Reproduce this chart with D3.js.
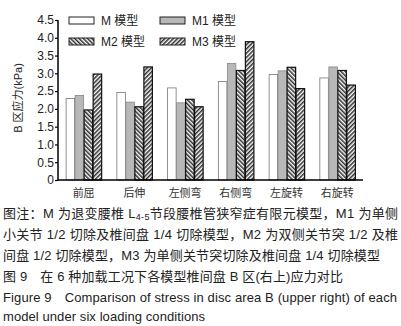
<!DOCTYPE html>
<html>
<head>
<meta charset="utf-8">
<script src="https://cdn.jsdelivr.net/npm/d3@7"></script>
<style>
  body { margin: 0; background: #fff; }
  svg { display: block; }
</style>
</head>
<body>
<div id="chart"></div>
<script>
// Data
var conditions = ["前屈", "后伸", "左侧弯", "右侧弯", "左旋转", "右旋转"];
var models = ["M 模型", "M1 模型", "M2 模型", "M3 模型"];
var valuesM  = [2.29, 2.46, 2.59, 2.77, 2.97, 2.87];
var valuesM1 = [2.38, 2.19, 2.17, 3.28, 3.07, 3.18];
var valuesM2 = [1.97, 2.06, 2.27, 3.08, 3.17, 3.08];
var valuesM3 = [2.98, 3.18, 2.06, 3.89, 2.57, 2.67];
var yTicks = [0, 0.5, 1.0, 1.5, 2.0, 2.5, 3.0, 3.5, 4.0, 4.5];
var captionLines = [
    "图注：M 为退变腰椎 L_4-5_节段腰椎管狭窄症有限元模型，M1 为单侧",
    "小关节 1/2 切除及椎间盘 1/4 切除模型，M2 为双侧关节突 1/2 及椎",
    "间盘 1/2 切除模型，M3 为单侧关节突切除及椎间盘 1/4 切除模型",
    "图 9　在 6 种加载工况下各模型椎间盘 B 区(右上)应力对比",
    "Figure 9　Comparison of stress in disc area B (upper right) of each",
    "model under six loading conditions"
];

var series = [valuesM, valuesM1, valuesM2, valuesM3];

var width = 401, height = 326;
var plot = {left: 58, right: 363, top: 20, bottom: 180};

var svg = d3.select("#chart").append("svg")
    .attr("width", width)
    .attr("height", height);

svg.append("rect").attr("width", width).attr("height", height).attr("fill", "#fff");

// hatch patterns
var defs = svg.append("defs");
function hatch(id, angle) {
    var p = defs.append("pattern")
        .attr("id", id)
        .attr("patternUnits", "userSpaceOnUse")
        .attr("width", 3)
        .attr("height", 10)
        .attr("patternTransform", "rotate(" + angle + ")");
    p.append("rect").attr("width", 3).attr("height", 10).attr("fill", "#fff");
    p.append("line")
        .attr("x1", 0.8).attr("x2", 0.8)
        .attr("y1", 0).attr("y2", 10)
        .attr("stroke", "#1a1a1a")
        .attr("stroke-width", 1.4);
}
hatch("hatchBack", -45);
hatch("hatchFwd", 45);

var fills = ["#fff", "#b8b8b8", "url(#hatchBack)", "url(#hatchFwd)"];
var strokes = ["#777", "#888", "#111", "#111"];

// scales
var x0 = d3.scaleBand()
    .domain(conditions)
    .range([plot.left, plot.right])
    .paddingInner(0.29)
    .paddingOuter(0.15);

var x1 = d3.scaleBand()
    .domain(d3.range(models.length))
    .range([0, x0.bandwidth()]);

var y = d3.scaleLinear()
    .domain([0, 4.5])
    .range([plot.bottom, plot.top]);

// bars
var groups = svg.append("g")
    .selectAll("g")
    .data(conditions)
    .join("g")
        .attr("transform", d => "translate(" + x0(d) + ",0)");

groups.selectAll("rect")
    .data((d, i) => series.map((s, k) => ({k: k, v: s[i]})))
    .join("rect")
        .attr("x", d => x1(d.k) + 0.5)
        .attr("y", d => y(d.v))
        .attr("width", x1.bandwidth() - 0.5)
        .attr("height", d => y(0) - y(d.v))
        .attr("fill", d => fills[d.k])
        .attr("stroke", d => strokes[d.k])
        .attr("stroke-width", d => d.k >= 2 ? 1.2 : 0.8);

// y axis
var yAxis = svg.append("g")
    .attr("transform", "translate(" + plot.left + ",0)")
    .call(d3.axisLeft(y)
        .tickValues(yTicks)
        .tickSize(3)
        .tickPadding(1)
        .tickFormat(d => d === 0 ? "0" : d.toFixed(1)));
yAxis.select(".domain").attr("stroke-width", 1.5).attr("d", "M0," + y(4.5) + "V" + (y(0) + 0.5));
yAxis.selectAll("line").attr("stroke-width", 1.2);
yAxis.selectAll("text")
    .style("font-family", "Arial, 'Liberation Sans', sans-serif")
    .style("font-size", "12px")
    .attr("fill", "#222");

// x axis line
svg.append("line")
    .attr("x1", plot.left).attr("x2", plot.right)
    .attr("y1", y(0)).attr("y2", y(0))
    .attr("stroke", "#000").attr("stroke-width", 1.5);

// x labels
svg.append("g")
    .selectAll("text")
    .data(conditions)
    .join("text")
        .attr("x", d => x0(d) + x0.bandwidth() / 2)
        .attr("y", 197)
        .attr("text-anchor", "middle")
        .style("font-family", "'Noto Sans CJK SC', sans-serif")
        .style("font-size", "11px")
        .attr("fill", "#333")
        .text(d => d);

// y label
svg.append("text")
    .attr("transform", "translate(22,98) rotate(-90)")
    .attr("text-anchor", "middle")
    .style("font-family", "Arial, 'Noto Sans CJK SC', sans-serif")
    .style("font-size", "11px")
    .attr("fill", "#222")
    .text("B 区应力(kPa)");

// legend
var legend = svg.append("g")
    .selectAll("g")
    .data(models)
    .join("g")
        .attr("transform", (d, i) => "translate(" + (69 + (i % 2) * 91) + "," + (17 + Math.floor(i / 2) * 21) + ")");
legend.append("rect")
    .attr("width", 25).attr("height", 7)
    .attr("fill", (d, i) => fills[i])
    .attr("stroke", "#222")
    .attr("stroke-width", 1);
legend.append("text")
    .attr("x", 32).attr("y", 8)
    .style("font-family", "Arial, 'Noto Sans CJK SC', sans-serif")
    .style("font-size", "12px")
    .attr("fill", "#222")
    .text(d => d);

// caption (text between underscores is a subscript)
var capY = [218, 239, 260, 281, 302, 321];
var capW = [395, 395, 377, 340, 394, 202];
var cap = svg.append("g")
    .selectAll("text")
    .data(captionLines)
    .join("text")
        .attr("x", 3)
        .attr("y", (d, i) => capY[i])
        .attr("textLength", (d, i) => capW[i])
        .attr("lengthAdjust", "spacing")
        .style("font-family", "Arial, 'Noto Sans CJK SC', sans-serif")
        .style("font-size", "13px")
        .attr("fill", "#222");
cap.each(function(d) {
    var t = d3.select(this);
    d.split("_").forEach(function(part, j) {
        var span = t.append("tspan").text(part);
        if (j % 2 === 1) span.attr("dy", 2).style("font-size", "9px");
        else if (j > 0) span.attr("dy", -2);
    });
});
</script>
</body>
</html>
